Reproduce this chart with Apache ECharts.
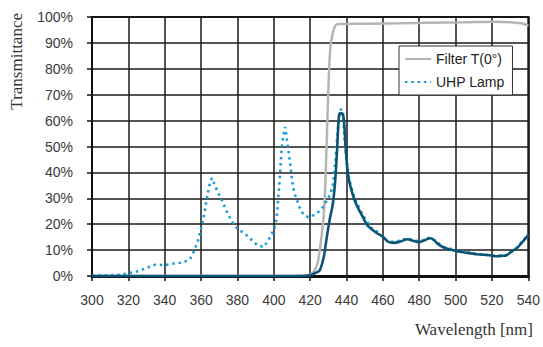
<!DOCTYPE html>
<html><head><meta charset="utf-8">
<script src="https://cdn.jsdelivr.net/npm/echarts@6/dist/echarts.min.js"></script>
<style>html,body{margin:0;padding:0;background:#fff}#c{width:543px;height:347px}</style>
</head><body><div id="c"></div>
<script>
// ---- data ----
const xTicks = [300,320,340,360,380,400,420,440,460,480,500,520,540];
const filterName = 'Filter T(0°)';
const lampName = 'UHP Lamp';
const filterNm = [300,410,416,419.8,422.5,424.4,426.2,427.5,428.4,429.3,430.2,431.1,432.5,434,436,450,470,486,505,522,530,536,538,540];
const filterT  = [0,0,0.2,0.5,2.2,6,15,24,37,56.5,75.8,88,94,96.8,97.3,97.4,97.6,97.8,98,98.2,98,97.6,97.2,96.6];
const lampNm = [300,305,310,315,320,325,330,335,340,345,350,354,356,358,359.5,361,362,363,364,365,366,367.3,369,371,372.5,374,376,378,380.5,384,388,391,394.5,397,399,400.5,401.5,402,402.5,403,403.5,404,404.7,405.5,406.3,407.3,408,408.6,409.2,410,411.3,412.5,413.8,415,416.5,419,422,425,427,429,431,432.5,434,435,436,437,438,439,440.7,442.2,444.4,449,453.5,458,462.5,466,473.5,480,486,493.5,500.7,511,522.5,528,533.5,540];
const lampT  = [0.3,0.3,0.3,0.5,1.0,1.8,3.1,4.4,4.2,4.8,5.2,6.5,9.5,13,17,21,25,29.5,33,36.5,37.8,35.5,32.6,30,27.5,25,22.3,19.8,18,16.4,13.8,11.9,11.2,13.8,16.4,19,22,26,31,35,40,46,52,55,57.5,52,48.7,45.5,42.5,37,32,30,27,25.5,23.5,22.7,23.5,25,26.5,29,31.5,35,45,55,62,64.5,63.5,52,40.5,35.2,30,23.5,18.7,16.5,13.6,13.1,14.5,13.3,14.9,11.2,9.8,8.6,7.7,8.1,10.8,16.1];
const outNm = [300,415,418,420.7,423,425.3,427.5,428.9,430.7,432.5,433.8,434.9,435.8,436.5,437.3,438.4,439.5,440.7,442.2,444.4,446.5,448.9,451,453.5,457,460,462.5,466,470,473.5,477,480,483,486,488,490,493.5,497,500.7,505,511.6,518.9,522.5,526,528,531,533.5,536,540];
const outT  = [0,0,0.1,0.5,1.2,2.2,7.4,13.8,21.6,28,37,50,61.6,62.8,62.8,61,50,39.7,34.5,29.3,26,22.9,20,18.2,16.4,15.2,13.4,12.8,13.4,14.2,13.5,13.1,13.8,14.6,14,12.5,11,10.2,9.6,9.1,8.4,8,7.6,7.8,8,9.6,10.6,12.5,15.8];
const yTicks = [0,10,20,30,40,50,60,70,80,90,100];
const yTitle = 'Transmittance';
const xTitle = 'Wavelength [nm]';

const pairs = (xs, ys) => xs.map((x, i) => [x, ys[i]]);
const chart = echarts.init(document.getElementById('c'), null, {renderer: 'svg'});
const labelFont = {fontFamily: 'Liberation Sans, Arial, sans-serif', fontSize: 14, color: '#3a3a3a'};
chart.setOption({
  animation: false,
  grid: {left: 92, right: 11, top: 17, bottom: 71, show: true, borderColor: '#111', borderWidth: 2},
  xAxis: {
    type: 'value', min: xTicks[0], max: xTicks[xTicks.length-1], interval: 20,
    axisLine: {show: true, lineStyle: {color: '#111', width: 3}},
    axisTick: {show: true, inside: false, length: 5, lineStyle: {color: '#111', width: 1.5}},
    axisLabel: Object.assign({margin: 17}, labelFont),
    splitLine: {show: true, lineStyle: {color: '#1a1a1a', width: 1.5}}
  },
  yAxis: {
    type: 'value', min: yTicks[0], max: yTicks[yTicks.length-1], interval: 10,
    axisLine: {show: true, lineStyle: {color: '#111', width: 2}},
    axisTick: {show: true, inside: false, length: 5, lineStyle: {color: '#111', width: 1.5}},
    axisLabel: Object.assign({margin: 19, formatter: '{value}%'}, labelFont),
    splitLine: {show: true, lineStyle: {color: '#1a1a1a', width: 1.5}}
  },
  legend: {
    data: [filterName, lampName],
    orient: 'vertical', left: 399, top: 46, width: 119,
    backgroundColor: '#fff', borderColor: '#333', borderWidth: 1,
    padding: [6, 8, 6, 5], itemGap: 9, itemWidth: 26, itemHeight: 10,
    itemStyle: {opacity: 0, borderWidth: 0},
    textStyle: {fontFamily: 'Liberation Sans, Arial, sans-serif', fontSize: 14, color: '#222'}
  },
  graphic: [
    {type: 'text', left: 8, top: 13, rotation: Math.PI/2,
     style: {text: yTitle, font: '17px "Liberation Serif", "Times New Roman", serif', fill: '#333'}},
    {type: 'text', right: 10, top: 321,
     style: {text: xTitle, font: '17px "Liberation Serif", "Times New Roman", serif', fill: '#333'}}
  ],
  series: [
    {name: filterName, type: 'line', data: pairs(filterNm, filterT), symbol: 'none', smooth: 0.3,
     lineStyle: {color: '#b5b5b5', width: 2.5}, itemStyle: {color: '#b5b5b5'}, z: 3},
    {name: lampName, type: 'line', data: pairs(lampNm, lampT), symbol: 'none',
     lineStyle: {color: '#1c9fd8', width: 2.6, type: [2.5, 3.8]}, itemStyle: {color: '#1c9fd8'}, z: 4},
    {name: 'Output', type: 'line', data: pairs(outNm, outT), symbol: 'none', smooth: 0.3,
     lineStyle: {color: '#0c5475', width: 2.6}, itemStyle: {color: '#0c5475'}, z: 5}
  ]
});
</script></body></html>
